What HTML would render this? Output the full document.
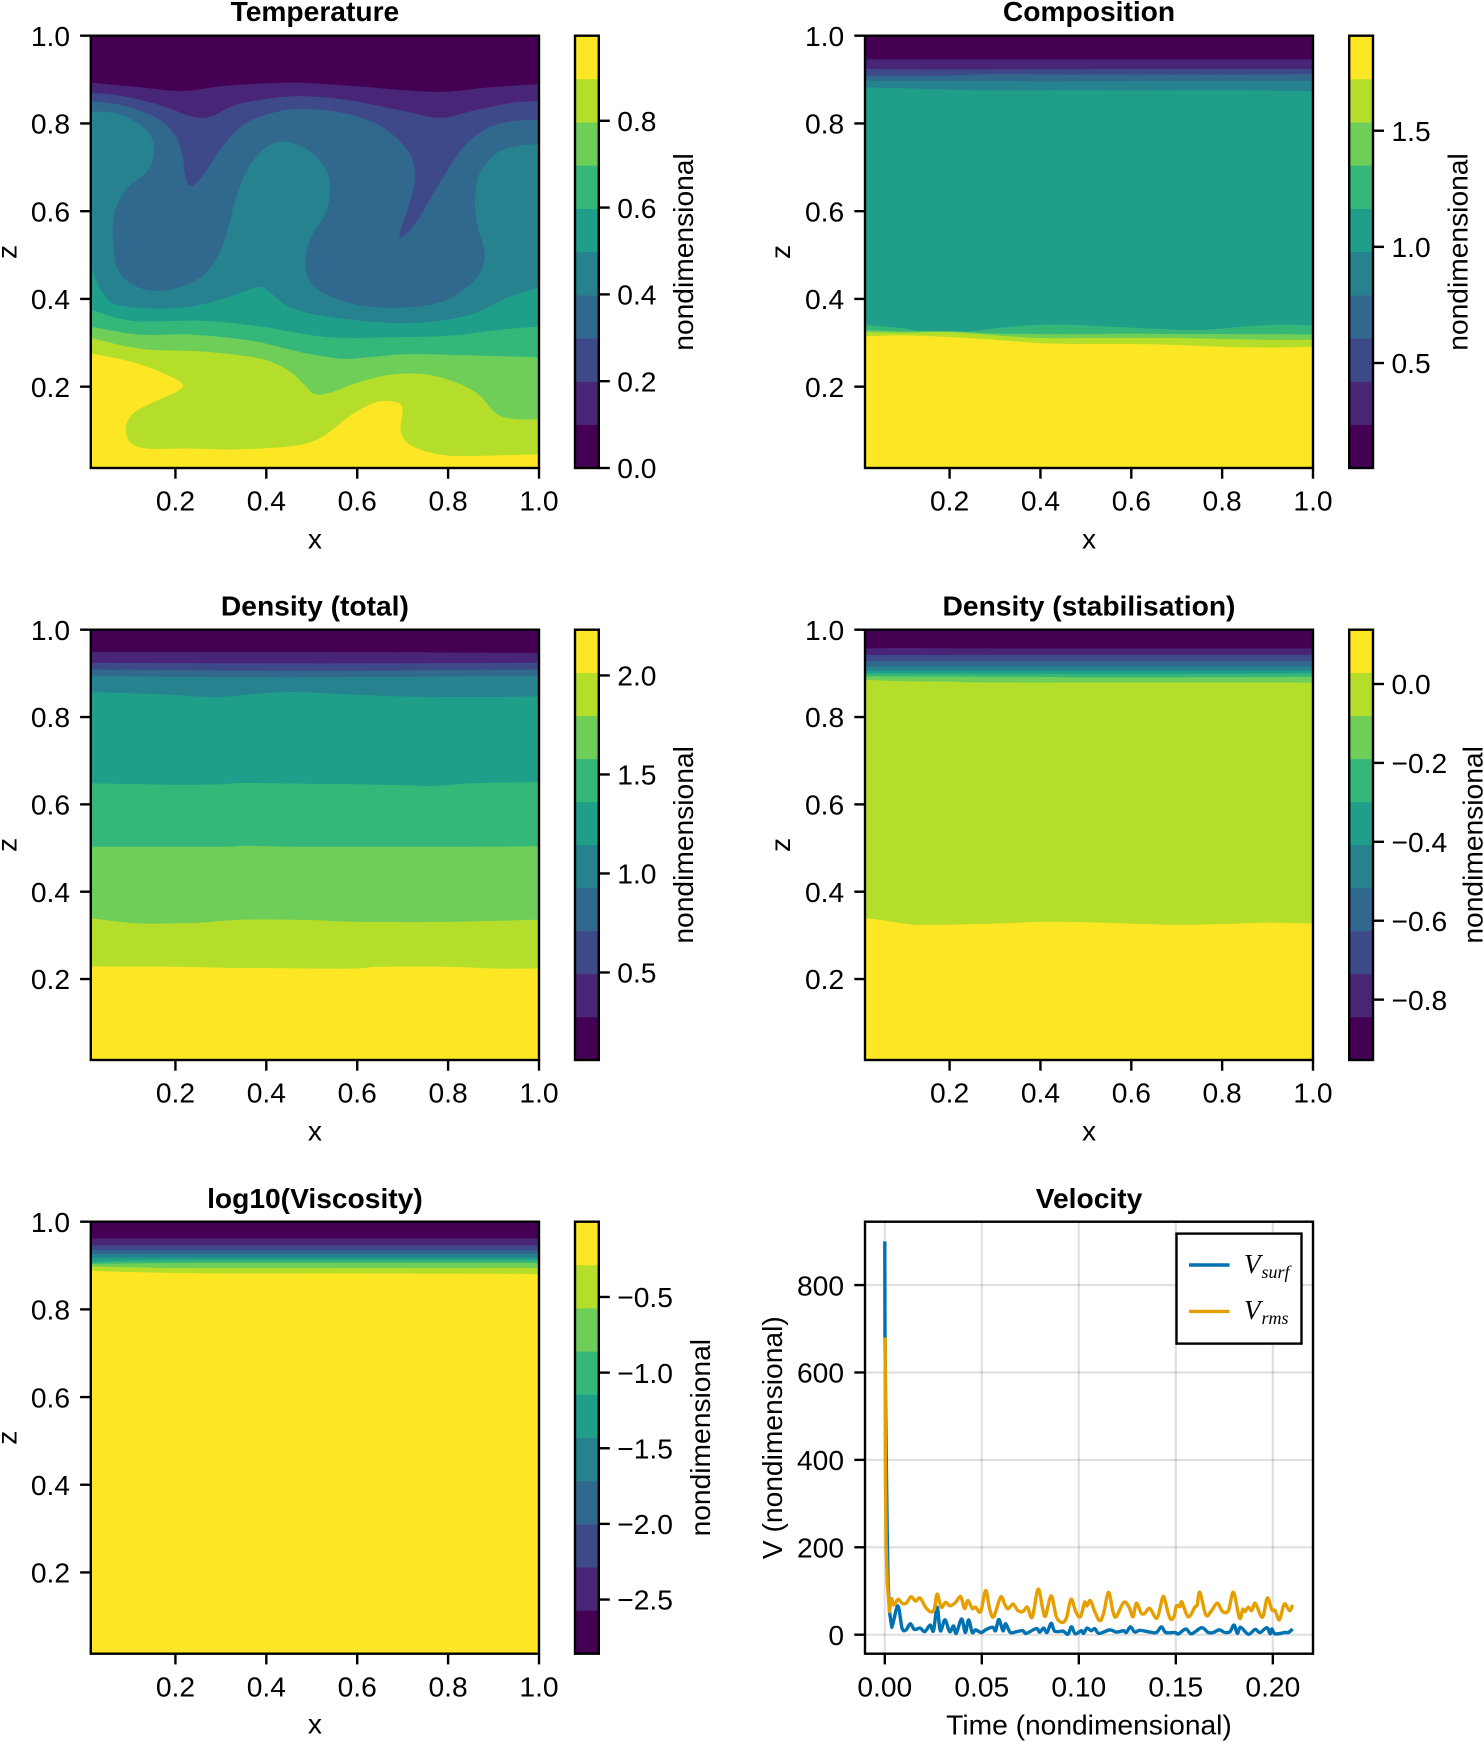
<!DOCTYPE html>
<html lang="en">
<head>
<meta charset="utf-8">
<title>Simulation fields and velocity</title>
<style>
  html, body { margin: 0; padding: 0; background: #fff; }
  svg { display: block; }
  text { font-family: "Liberation Sans", Arial, sans-serif; font-size: 28.2px; fill: #000; }
  .title { font-weight: bold; text-anchor: middle; }
  .mid { text-anchor: middle; }
</style>
</head>
<body>
<svg id="figure" xmlns="http://www.w3.org/2000/svg" width="1484" height="1742" viewBox="0 0 1484 1742">
  <rect x="0" y="0" width="1484" height="1742" fill="#fff"/>
  <defs id="defs"></defs>
  <g id="plots"></g>

  <text class="title" x="314.9" y="21">Temperature</text>
  <text class="mid" x="314.9" y="548.5">x</text>
  <text class="mid" transform="translate(16.5,252) rotate(-90)">z</text>
  <text class="mid" transform="translate(693,252) rotate(-90)">nondimensional</text>

  <text class="title" x="1089" y="21">Composition</text>
  <text class="mid" x="1089" y="548.5">x</text>
  <text class="mid" transform="translate(790,252) rotate(-90)">z</text>
  <text class="mid" transform="translate(1467.5,252) rotate(-90)">nondimensional</text>

  <text class="title" x="314.9" y="615.5">Density (total)</text>
  <text class="mid" x="314.9" y="1140.5">x</text>
  <text class="mid" transform="translate(16.5,844.9) rotate(-90)">z</text>
  <text class="mid" transform="translate(693,844.9) rotate(-90)">nondimensional</text>

  <text class="title" x="1089" y="615.5">Density (stabilisation)</text>
  <text class="mid" x="1089" y="1140.5">x</text>
  <text class="mid" transform="translate(790,844.9) rotate(-90)">z</text>
  <text class="mid" transform="translate(1482.6,844.9) rotate(-90)">nondimensional</text>

  <text class="title" x="314.9" y="1208">log10(Viscosity)</text>
  <text class="mid" x="314.9" y="1733.5">x</text>
  <text class="mid" transform="translate(16.5,1437.7) rotate(-90)">z</text>
  <text class="mid" transform="translate(710,1437.7) rotate(-90)">nondimensional</text>

  <text class="title" x="1089" y="1208">Velocity</text>
  <text class="mid" x="1089" y="1734.5">Time (nondimensional)</text>
  <text class="mid" transform="translate(782,1437.7) rotate(-90)">V (nondimensional)</text>

  <g id="legend">
    <rect x="1176.5" y="1233.6" width="125" height="110" fill="#fff" stroke="#000" stroke-width="2.4"/>
    <line x1="1189" x2="1229.5" y1="1265" y2="1265" stroke="#0072b2" stroke-width="3.4"/>
    <text x="1244" y="1273" style="font-family:'Liberation Serif',serif;font-style:italic;font-size:27px">V</text>
    <text x="1261.5" y="1278" style="font-family:'Liberation Serif',serif;font-style:italic;font-size:18px">surf</text>
    <line x1="1189" x2="1229.5" y1="1311.4" y2="1311.4" stroke="#e69f00" stroke-width="3.4"/>
    <text x="1244" y="1319" style="font-family:'Liberation Serif',serif;font-style:italic;font-size:27px">V</text>
    <text x="1261.5" y="1324" style="font-family:'Liberation Serif',serif;font-style:italic;font-size:18px">rms</text>
  </g>
</svg>

<script>
// ---------- colours ----------
const viridisBands = ['#440154','#482576','#3e4989','#31688e','#26828e','#1f9e89','#35b779','#6ece58','#b5de2b','#fde725'];

// ---------- shared axis values ----------
const fieldXTicks = [0.2, 0.4, 0.6, 0.8, 1.0];
const fieldZTicks = [0.2, 0.4, 0.6, 0.8, 1.0];
const fieldXRange = [0.0138, 1.0];
const fieldZRange = [0.0146, 1.0];

// ---------- contour lines: each is flat x,z pairs, lowest level first ----------
const temperatureContours = [
 [.014,.893,.127,.882,.216,.874,.314,.886,.460,.893,.595,.885,.772,.872,.887,.882,1,.890],
 [.014,.870,.086,.862,.169,.841,.231,.817,.262,.813,.288,.820,.346,.846,.460,.862,.574,.854,.699,.829,.783,.813,.855,.829,.939,.847,1,.851],
 [.014,.851,.086,.841,.158,.813,.200,.772,.216,.724,.221,.683,.234,.657,.262,.683,.304,.748,.356,.801,.429,.828,.481,.833,.564,.825,.647,.797,.710,.740,.727,.683,.715,.618,.694,.553,.699,.541,.731,.577,.783,.667,.835,.748,.887,.789,.939,.805,1,.809],
 [.014,.828,.075,.821,.132,.789,.153,.744,.138,.691,.091,.650,.065,.593,.063,.528,.075,.463,.117,.427,.169,.419,.231,.435,.278,.472,.309,.537,.330,.618,.356,.691,.398,.744,.444,.758,.502,.732,.538,.675,.533,.602,.497,.537,.486,.472,.512,.423,.585,.390,.679,.380,.783,.392,.855,.439,.881,.496,.866,.561,.859,.618,.868,.683,.907,.732,.959,.750,1,.752],
 [.014,.476,.039,.415,.075,.386,.169,.378,.252,.386,.335,.411,.382,.428,.408,.415,.450,.382,.522,.362,.647,.347,.751,.347,.855,.366,.928,.402,1,.427],
 [.014,.376,.106,.350,.262,.350,.387,.337,.533,.313,.699,.313,.814,.317,.907,.329,1,.337],
 [.014,.337,.117,.319,.231,.319,.366,.305,.470,.280,.564,.264,.626,.267,.710,.274,.855,.271,1,.267],
 [.014,.311,.127,.286,.262,.280,.387,.264,.450,.236,.481,.207,.507,.183,.543,.187,.606,.211,.679,.228,.751,.228,.814,.211,.866,.183,.907,.138,.949,.126,1,.126],
 [.014,.276,.106,.256,.179,.228,.216,.205,.200,.187,.148,.163,.106,.138,.091,.106,.101,.073,.138,.059,.231,.059,.335,.057,.460,.065,.522,.085,.585,.134,.637,.163,.673,.167,.699,.154,.696,.098,.720,.065,.783,.045,.855,.042,1,.046]
];
const compositionContours = [
 [.014,.946,1,.946],
 [.014,.924,.2,.923,.6,.924,1,.924],
 [.014,.909,.2,.909,.3,.912,.6,.911,1,.912],
 [.014,.897,.3,.897,.4,.896,.7,.897,1,.897],
 [.014,.882,.1,.880,.2,.877,.3,.875,.5,.876,.6,.875,.8,.876,1,.874],
 [.014,.341,.1,.333,.14,.327,.25,.327,.3,.333,.4,.341,.47,.341,.55,.337,.65,.332,.75,.329,.85,.337,.92,.341,1,.340],
 [.014,.329,.1,.326,.2,.326,.3,.321,.4,.320,.5,.320,.6,.321,.7,.320,.8,.320,.9,.320,1,.319],
 [.014,.324,.1,.323,.2,.324,.3,.317,.4,.311,.5,.311,.6,.311,.7,.311,.8,.309,.9,.307,1,.307],
 [.014,.315,.1,.317,.2,.313,.3,.307,.4,.299,.5,.297,.6,.297,.7,.295,.8,.291,.9,.289,1,.291]
];
const densityTotalContours = [
 [.014,.949,.5,.949,1,.947],
 [.014,.924,.5,.923,1,.924],
 [.014,.909,.4,.906,.6,.906,1,.909],
 [.014,.894,.4,.891,.6,.892,1,.894],
 [.014,.857,.15,.853,.25,.847,.3,.846,.4,.855,.47,.857,.6,.851,.7,.847,.8,.846,.9,.846,1,.847],
 [.014,.648,.2,.645,.3,.646,.35,.649,.5,.647,.6,.646,.7,.644,.77,.642,.85,.648,1,.651],
 [.014,.503,.3,.503,.35,.505,.5,.503,.8,.503,1,.504],
 [.014,.339,.1,.329,.15,.327,.25,.329,.35,.336,.5,.335,.6,.331,.8,.331,1,.336],
 [.014,.229,.2,.228,.3,.226,.5,.224,.6,.224,.65,.228,.8,.228,.9,.224,1,.224]
];
const densityStabContours = [
 [.014,.957,.1,.958,.3,.957,1,.957],
 [.014,.942,.5,.942,1,.942],
 [.014,.928,.5,.928,1,.928],
 [.014,.916,.5,.916,1,.916],
 [.014,.906,.5,.906,1,.906],
 [.014,.900,.5,.899,1,.900],
 [.014,.893,.4,.892,.5,.891,1,.892],
 [.014,.885,.1,.882,.2,.881,.3,.879,.9,.879,1,.878],
 [.014,.339,.05,.335,.1,.327,.15,.324,.3,.327,.4,.331,.5,.330,.6,.327,.7,.324,.8,.326,.9,.329,1,.327]
];
const viscosityContours = [
 [.014,.962,1,.962],
 [.014,.946,1,.946],
 [.014,.935,1,.935],
 [.014,.926,1,.926],
 [.014,.918,1,.918],
 [.014,.908,.2,.912,1,.912],
 [.014,.904,.1,.905,.3,.906,1,.906],
 [.014,.898,.1,.896,.3,.894,1,.895],
 [.014,.888,.1,.885,.3,.882,.6,.882,.95,.881,1,.879]
];

// ---------- colorbar limits and ticks ----------
const temperatureLimits = [0, 0.996];
const temperatureTicks = [0, 0.2, 0.4, 0.6, 0.8];
const compositionLimits = [0.048, 1.909];
const compositionTicks = [0.5, 1.0, 1.5];
const densityTotalLimits = [0.058, 2.231];
const densityTotalTicks = [0.5, 1.0, 1.5, 2.0];
const densityStabLimits = [-0.953, 0.1376];
const densityStabTicks = [-0.8, -0.6, -0.4, -0.2, 0.0];
const viscosityLimits = [-2.858, -0.0024];
const viscosityTicks = [-2.5, -2.0, -1.5, -1.0, -0.5];

// ---------- velocity series ----------
const velocityXRange = [-0.0102, 0.2207];
const velocityYRange = [-43.5, 945];
const velocityXTicks = [0, 0.05, 0.10, 0.15, 0.20];
const velocityYTicks = [0, 200, 400, 600, 800];
const surfTimes = [0,0.0001,.0005,.0012,.0017,.0024,.0036,.0067,.0089,.0110,.0131,.0153,.0182,.0206,.0234,.0251,.0270,.0286,.0310,.0334,.0354,.0368,.0396,.0415,.0432,.0451,.0468,.0497,.0523,.0557,.0571,.0588,.0609,.0623,.0647,.0678,.0712,.0729,.0781,.0798,.0819,.0836,.0858,.0876,.0919,.0944,.0962,.0982,.1013,.1025,.1042,.1064,.1082,.1104,.1159,.1193,.1231,.1245,.1266,.1288,.1314,.1366,.1400,.1426,.1448,.1495,.1514,.1552,.1581,.1633,.1667,.1693,.1724,.1753,.1779,.1800,.1817,.1834,.1874,.1909,.1934,.1969,.1986,.1995,.2012,.2064,.2081,.2102];
const surfValues = [900,680,500,250,120,53,17,66,15,11,25,12,15,7,22,9,63,9,34,7,20,3,36,5,34,5,11,5,12,17,9,35,9,25,5,7,9,3,14,6,15,5,26,8,8,1,18,2,9,3,15,9,14,3,11,6,9,5,18,6,10,6,5,18,5,5,2,13,2,16,5,5,11,5,7,22,3,17,1,12,5,16,2,13,2,5,5,13];
const rmsTimes = [.0002,.0003,.0007,.0013,.0024,.0034,.0046,.0069,.0089,.0110,.0136,.0158,.0182,.0210,.0239,.0256,.0270,.0291,.0313,.0337,.0365,.0391,.0411,.0428,.0451,.0468,.0494,.0520,.0540,.0561,.0597,.0618,.0635,.0661,.0686,.0712,.0735,.0760,.0790,.0815,.0829,.0858,.0884,.0913,.0936,.0960,.0984,.1008,.1030,.1042,.1060,.1082,.1108,.1128,.1153,.1176,.1193,.1231,.1259,.1279,.1297,.1322,.1340,.1366,.1403,.1431,.1443,.1469,.1490,.1503,.1521,.1531,.1564,.1598,.1610,.1624,.1655,.1684,.1714,.1741,.1771,.1797,.1828,.1845,.1857,.1874,.1891,.1909,.1938,.1952,.1972,.1995,.2012,.2034,.2059,.2086,.2102];
const rmsValues = [680,400,200,120,53,82,68,81,72,72,87,77,84,63,52,60,93,63,74,66,74,87,60,78,60,63,53,101,60,41,86,70,59,70,55,53,63,40,104,57,43,89,41,28,38,81,53,41,74,66,78,53,32,49,97,53,41,74,63,41,72,49,49,60,38,84,80,38,41,66,64,75,41,63,68,97,45,55,72,53,55,97,38,58,53,63,55,72,43,45,84,57,55,34,70,55,68];

// ---------- helpers ----------
const NS = 'http://www.w3.org/2000/svg';
const plots = document.getElementById('plots');
const defs = document.getElementById('defs');
const FRAME = 2.4;

function mk(tag, attrs, parent) {
  const el = document.createElementNS(NS, tag);
  for (const k in attrs) el.setAttribute(k, attrs[k]);
  parent.appendChild(el);
  return el;
}
function linear(d0, d1, r0, r1) {
  return function (v) { return r0 + (v - d0) / (d1 - d0) * (r1 - r0); };
}
function smoothPath(pts, linearCount) {
  let d = 'M' + pts[0][0].toFixed(2) + ' ' + pts[0][1].toFixed(2);
  for (let i = 0; i < pts.length - 1; i++) {
    const p1 = pts[i], p2 = pts[i + 1];
    if (i < linearCount) { d += 'L' + p2[0].toFixed(2) + ' ' + p2[1].toFixed(2); continue; }
    const p0 = pts[Math.max(i - 1, 0)], p3 = pts[Math.min(i + 2, pts.length - 1)];
    const c1x = p1[0] + (p2[0] - p0[0]) / 6, c1y = p1[1] + (p2[1] - p0[1]) / 6;
    const c2x = p2[0] - (p3[0] - p1[0]) / 6, c2y = p2[1] - (p3[1] - p1[1]) / 6;
    d += 'C' + c1x.toFixed(2) + ' ' + c1y.toFixed(2) + ' ' + c2x.toFixed(2) + ' ' + c2y.toFixed(2) + ' ' + p2[0].toFixed(2) + ' ' + p2[1].toFixed(2);
  }
  return d;
}
function fmt(v, dec) {
  return v.toFixed(dec).replace('-', '\u2212');
}
function drawAxisTicks(group, xTicks, yTicks, sx, sy, top, bottom, left, dec) {
  xTicks.forEach(function (v) {
    const t = mk('line', { x1: sx(v), x2: sx(v), y1: bottom, y2: bottom + 10.7, stroke: '#000', 'stroke-width': FRAME }, group);
    
    
    const l = mk('text', { x: sx(v), y: bottom + 42.6, 'text-anchor': 'middle' }, group);
    
    
    l.textContent = v.toFixed(dec.x);
  });
  yTicks.forEach(function (v) {
    const t = mk('line', { x1: left - 10.7, x2: left, y1: sy(v), y2: sy(v), stroke: '#000', 'stroke-width': FRAME }, group);
    
    
    const l = mk('text', { x: left - dec.gap, y: sy(v) + 10.2, 'text-anchor': 'end' }, group);
    
    
    l.textContent = v.toFixed(dec.y);
  });
}

function drawContourPanel(id, left, right, top, bottom, barLeft, contours, limits, ticks) {
  const g = mk('g', {}, plots);
  
  
  const sx = linear(fieldXRange[0], fieldXRange[1], left, right);
  const sz = linear(fieldZRange[0], fieldZRange[1], bottom, top);

  const clip = mk('clipPath', { id: 'clip-' + id }, defs);
  mk('rect', { x: left, y: top, width: right - left, height: bottom - top }, clip);
  const field = mk('g', { 'clip-path': 'url(#clip-' + id + ')' }, g);
  
  

  const base = mk('rect', { x: left, y: top, width: right - left, height: bottom - top, fill: viridisBands[0] }, field);
  
  

  contours.forEach(function (line, k) {
    const pts = [];
    for (let i = 0; i < line.length; i += 2) pts.push([sx(line[i]), sz(line[i + 1])]);
    const d = smoothPath(pts, 0) + 'L' + (right + 4) + ' ' + pts[pts.length - 1][1].toFixed(2) +
      'L' + (right + 4) + ' ' + (bottom + 4) + 'L' + (left - 4) + ' ' + (bottom + 4) + 'L' + (left - 4) + ' ' + pts[0][1].toFixed(2) + 'Z';
    const band = mk('path', { d: d, fill: viridisBands[k + 1] }, field);
    
    
  });

  const frame = mk('rect', { x: left, y: top, width: right - left, height: bottom - top, fill: 'none', stroke: '#000', 'stroke-width': FRAME }, g);
  
  
  drawAxisTicks(g, fieldXTicks, fieldZTicks, sx, sz, top, bottom, left, { x: 1, y: 1, gap: 20.8 });

  // colorbar
  const barWidth = 23.8;
  const bar = mk('g', {}, g);
  
  
  const n = viridisBands.length;
  const bandH = (bottom - top) / n;
  viridisBands.forEach(function (c, i) {
    const r = mk('rect', { x: barLeft, y: bottom - (i + 1) * bandH, width: barWidth, height: bandH + 0.3, fill: c }, bar);
    
    
  });
  const barFrame = mk('rect', { x: barLeft, y: top, width: barWidth, height: bottom - top, fill: 'none', stroke: '#000', 'stroke-width': FRAME }, bar);
  
  
  const sc = linear(limits[0], limits[1], bottom, top);
  ticks.forEach(function (v) {
    const t = mk('line', { x1: barLeft + barWidth, x2: barLeft + barWidth + 11, y1: sc(v), y2: sc(v), stroke: '#000', 'stroke-width': FRAME }, bar);
    
    
    const l = mk('text', { x: barLeft + barWidth + 18.5, y: sc(v) + 10.2 }, bar);
    
    
    l.textContent = fmt(v, 1);
  });
}

function drawVelocityPanel(left, right, top, bottom) {
  const g = mk('g', {}, plots);
  
  
  const sx = linear(velocityXRange[0], velocityXRange[1], left, right);
  const sy = linear(velocityYRange[0], velocityYRange[1], bottom, top);
  velocityXTicks.forEach(function (v) {
    const gl = mk('line', { x1: sx(v), x2: sx(v), y1: top, y2: bottom, stroke: 'rgba(0,0,0,0.12)', 'stroke-width': 2.2 }, g);
    
    
  });
  velocityYTicks.forEach(function (v) {
    const gl = mk('line', { x1: left, x2: right, y1: sy(v), y2: sy(v), stroke: 'rgba(0,0,0,0.12)', 'stroke-width': 2.2 }, g);
    
    
  });
  const surf = mk('path', { d: smoothPath(surfTimes.map(function (t, i) { return [sx(t), sy(surfValues[i])]; }), 6), fill: 'none', stroke: '#0072b2', 'stroke-width': 3.4, 'stroke-linejoin': 'round' }, g);
  
  
  const rms = mk('path', { d: smoothPath(rmsTimes.map(function (t, i) { return [sx(t), sy(rmsValues[i])]; }), 5), fill: 'none', stroke: '#e69f00', 'stroke-width': 3.4, 'stroke-linejoin': 'round' }, g);
  
  
  const frame = mk('rect', { x: left, y: top, width: right - left, height: bottom - top, fill: 'none', stroke: '#000', 'stroke-width': FRAME }, g);
  
  
  drawAxisTicks(g, velocityXTicks, velocityYTicks, sx, sy, top, bottom, left, { x: 2, y: 0, gap: 21 });
}

drawContourPanel('temperature', 90.8, 539, 35.7, 468, 575, temperatureContours, temperatureLimits, temperatureTicks);
drawContourPanel('composition', 865, 1313, 35.7, 468, 1349.2, compositionContours, compositionLimits, compositionTicks);
drawContourPanel('density-total', 90.8, 539, 629.7, 1060, 575, densityTotalContours, densityTotalLimits, densityTotalTicks);
drawContourPanel('density-stabilisation', 865, 1313, 629.7, 1060, 1349.2, densityStabContours, densityStabLimits, densityStabTicks);
drawContourPanel('viscosity', 90.8, 539, 1221.7, 1653.7, 575, viscosityContours, viscosityLimits, viscosityTicks);
drawVelocityPanel(865, 1313, 1221.7, 1653.7);
</script>
</body>
</html>
